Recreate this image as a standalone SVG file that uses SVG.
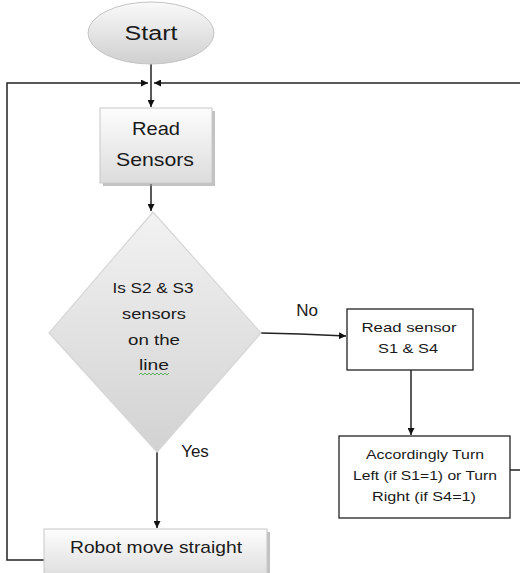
<svg xmlns="http://www.w3.org/2000/svg" width="520" height="573" viewBox="0 0 520 573">
<style>
text{font-family:"Liberation Sans",Arial,sans-serif;fill:#1a1a1a;text-anchor:middle}
.big{font-size:19px}
.mid{font-size:15px}
.lab{font-size:17px}
.sm{font-size:13px}
.ln{fill:none;stroke:#222;stroke-width:1.5}
.box{fill:#fff;stroke:#222;stroke-width:1.3}
.gbox{fill:url(#gb);stroke:#c8c8c8;stroke-width:1}
.shadow{fill:#9a9a9a;opacity:0.6}
</style>
<defs>
<linearGradient id="gb" x1="0" y1="0" x2="0" y2="1"><stop offset="0" stop-color="#fdfdfd"/><stop offset="1" stop-color="#dcdcdc"/></linearGradient>
<linearGradient id="ge" x1="0" y1="0" x2="0" y2="1"><stop offset="0" stop-color="#fafafa"/><stop offset="1" stop-color="#cfcfcf"/></linearGradient>
<linearGradient id="gd" x1="0" y1="0" x2="0" y2="1"><stop offset="0" stop-color="#f2f2f2"/><stop offset="1" stop-color="#d2d2d2"/></linearGradient>
<marker id="ar" viewBox="0 0 10 10" refX="10" refY="5" markerWidth="7" markerHeight="7" orient="auto" markerUnits="userSpaceOnUse"><path d="M0,0 L10,5 L0,10 Z" fill="#111"/></marker>
</defs>

<g id="connectors">
<line class="ln" x1="151" y1="64" x2="151" y2="107" marker-end="url(#ar)"/>
<polyline class="ln" points="44,560 7,560 7,83 148,83" marker-end="url(#ar)"/>
<polyline class="ln" points="510,470 520,470"/>
<line class="ln" x1="520" y1="83" x2="154" y2="83" marker-end="url(#ar)"/>
<line class="ln" x1="151" y1="184" x2="151" y2="211" marker-end="url(#ar)"/>
<polyline class="ln" points="261,333 300,334 346,336" marker-end="url(#ar)"/>
<line class="ln" x1="411" y1="370" x2="411" y2="435" marker-end="url(#ar)"/>
<line class="ln" x1="157" y1="452" x2="157" y2="528" marker-end="url(#ar)"/>
<text class="lab" x="307" y="316">No</text>
<text class="lab" x="195" y="457">Yes</text>
</g>

<g id="start">
<ellipse cx="151" cy="33" rx="63" ry="31" fill="url(#ge)" stroke="#c4c4c4" stroke-width="1"/>
<text class="big" x="151" y="40" style="font-size:20px" textLength="53" lengthAdjust="spacingAndGlyphs">Start</text>
</g>

<g id="read-sensors">
<rect class="shadow" x="103" y="111" width="112" height="75"/>
<rect class="gbox" x="100" y="108" width="112" height="75"/>
<text class="big" x="156" y="135" textLength="48" lengthAdjust="spacingAndGlyphs">Read</text>
<text class="big" x="155" y="166" textLength="78" lengthAdjust="spacingAndGlyphs">Sensors</text>
</g>

<g id="decision">
<polygon points="153,212 261,333 157,452 49,333" fill="url(#gd)" stroke="#d6d6d6" stroke-width="1.2"/>
<text class="mid" x="153" y="293" textLength="81" lengthAdjust="spacingAndGlyphs">Is S2 &amp; S3</text>
<text class="mid" x="154" y="319" textLength="64" lengthAdjust="spacingAndGlyphs">sensors</text>
<text class="mid" x="154" y="345" textLength="52" lengthAdjust="spacingAndGlyphs">on the</text>
<text class="mid" x="154" y="370" textLength="30" lengthAdjust="spacingAndGlyphs">line</text>
<polyline points="139,375 141,373 143,375 145,373 147,375 149,373 151,375 153,373 155,375 157,373 159,375 161,373 163,375 165,373 167,375 169,373" fill="none" stroke="#3aa63a" stroke-width="0.8"/>
</g>

<g id="read-s1-s4">
<rect class="box" x="347" y="309" width="126" height="61"/>
<text class="sm" x="409" y="332" textLength="95" lengthAdjust="spacingAndGlyphs">Read sensor</text>
<text class="sm" x="408" y="353" textLength="60" lengthAdjust="spacingAndGlyphs">S1 &amp; S4</text>
</g>

<g id="turn">
<rect class="box" x="339" y="436" width="171" height="82"/>
<text class="sm" x="425" y="459" textLength="118" lengthAdjust="spacingAndGlyphs">Accordingly Turn</text>
<text class="sm" x="425" y="480" textLength="144" lengthAdjust="spacingAndGlyphs">Left (if S1=1) or Turn</text>
<text class="sm" x="424" y="501" textLength="104" lengthAdjust="spacingAndGlyphs">Right (if S4=1)</text>
</g>

<g id="move-straight">
<rect class="shadow" x="47" y="532" width="223" height="50"/>
<rect class="gbox" x="44" y="529" width="223" height="50"/>
<text class="mid" x="156" y="553" style="font-size:17px" textLength="172" lengthAdjust="spacingAndGlyphs">Robot move straight</text>
</g>
</svg>
